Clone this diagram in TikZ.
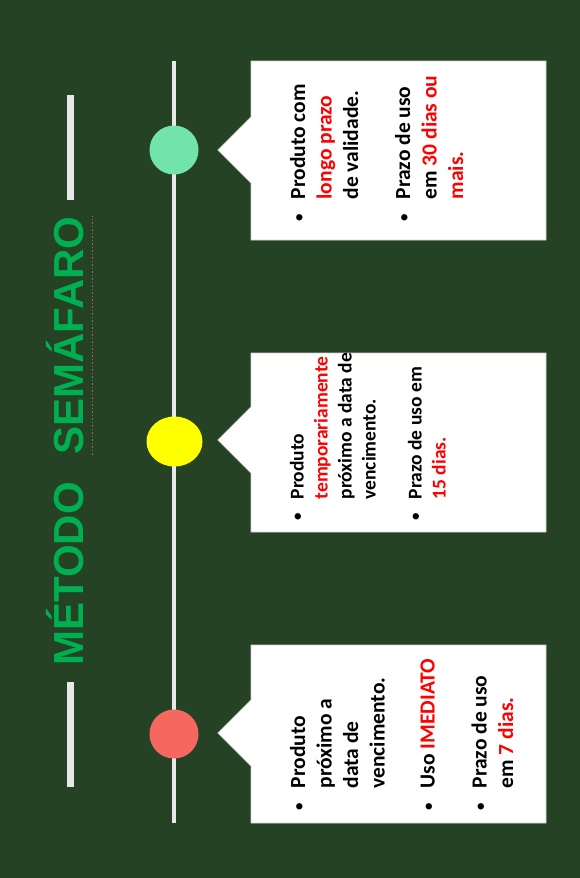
\documentclass[tikz,border=0pt]{standalone}
\usepackage{fontspec}
\setmainfont{Carlito}
\newfontfamily\titlefont{Liberation Sans}
\usepackage{xcolor}
\usetikzlibrary{positioning,shapes.geometric}
\definecolor{fundo}{RGB}{37,66,36}
\definecolor{verde}{RGB}{0,176,80}
\definecolor{luzverde}{RGB}{112,228,170}
\definecolor{luzamarela}{RGB}{255,255,0}
\definecolor{luzvermelha}{RGB}{244,104,96}
\definecolor{linha}{RGB}{232,232,232}
\tikzset{%
roundnode/.style={circle, minimum size=49pt, inner sep=0pt},
caixa/.style={fill=white, draw=gray!35, line width=0.8pt},
texto/.style={rotate=90, anchor=base west, inner sep=0pt, font=\bfseries\fontsize{21.5}{26.5}\selectfont},
textopeq/.style={texto, font=\bfseries\fontsize{19.5}{24}\selectfont},
titulo/.style={rotate=90, anchor=base, inner sep=0pt, text=verde, font=\titlefont\bfseries\fontsize{42}{42}\selectfont},
barra/.style={draw=linha, line width=7.5pt},
eixo/.style={draw=linha, line width=4.5pt}
}
\newcommand{\vm}[1]{\textcolor{red}{#1}}
\newcommand{\pto}{\raisebox{1.5pt}{\fontsize{15}{15}\selectfont\textbullet}}

\begin{document}
\begin{tikzpicture}[x=1pt, y=-1pt]
		\useasboundingbox (0,0) rectangle (580,878);
		\fill[fundo] (0,0) rectangle (580,878);
		
		% titulo
		\draw[barra] (70.5,95) -- (70.5,200);
		\draw[barra] (70.5,682) -- (70.5,787);
		\node[titulo] (metodo) at (83,574) {MÉTODO};
		\node[titulo] (semafaro) at (83,335.5) {SEMÁFARO};
		\draw[draw={rgb,255:red,160;green,100;blue,90}, line width=1.5pt, dotted]
			([xshift=9pt]semafaro.south west) -- ([xshift=9pt]semafaro.south east);
		
		% linha do tempo
		\coordinate (topo) at (174,61);
		\coordinate (fim) at (174,823);
		\path[eixo] (topo) -- (fim);
		\node[roundnode, fill=luzverde] (verdeluz) at (174,150) {};
		\node[roundnode, ellipse, fill=luzamarela, minimum width=56pt, minimum height=50pt] (amarela) at (174.5,441.5) {};
		\node[roundnode, fill=luzvermelha] (vermelha) at (174,734) {};
		
		% caixas
		\path[caixa] (251,61) -- (546,61) -- (546,240) -- (251,240) -- (251,183) -- (218,150) -- (251,117) -- cycle;
		\path[caixa] (251,353) -- (546,353) -- (546,532) -- (251,532) -- (251,473) -- (218,440) -- (251,407) -- cycle;
		\path[caixa] (251,645) -- (546,645) -- (546,823) -- (251,823) -- (251,766) -- (218,733) -- (251,700) -- cycle;
		
		% textos
		\node[texto] (longo) at (305,222) {\begin{tabular}[t]{@{}l@{\hspace{15pt}}l@{}}
			\pto & Produto com\\ & \vm{longo prazo}\\ & de validade.\\[25.5pt]
			\pto & Prazo de uso\\ & em \vm{30 dias ou}\\ & \vm{mais.}
			\end{tabular}};
		\node[textopeq] (medio) at (303.5,521) {\begin{tabular}[t]{@{}l@{\hspace{14pt}}l@{}}
			\pto & Produto\\ & \vm{temporariamente}\\ & próximo a data de\\ & vencimento.\\[22pt]
			\pto & Prazo de uso em\\ & \vm{15 dias.}
			\end{tabular}};
		\node[texto] (curto) at (305,811) {\begin{tabular}[t]{@{}l@{\hspace{15pt}}l@{}}
			\pto & Produto\\ & próximo a\\ & data de\\ & vencimento.\\[23.5pt]
			\pto & Uso \vm{IMEDIATO}\\[25.5pt]
			\pto & Prazo de uso\\ & em \vm{7 dias.}
			\end{tabular}};
\end{tikzpicture}
\end{document}
